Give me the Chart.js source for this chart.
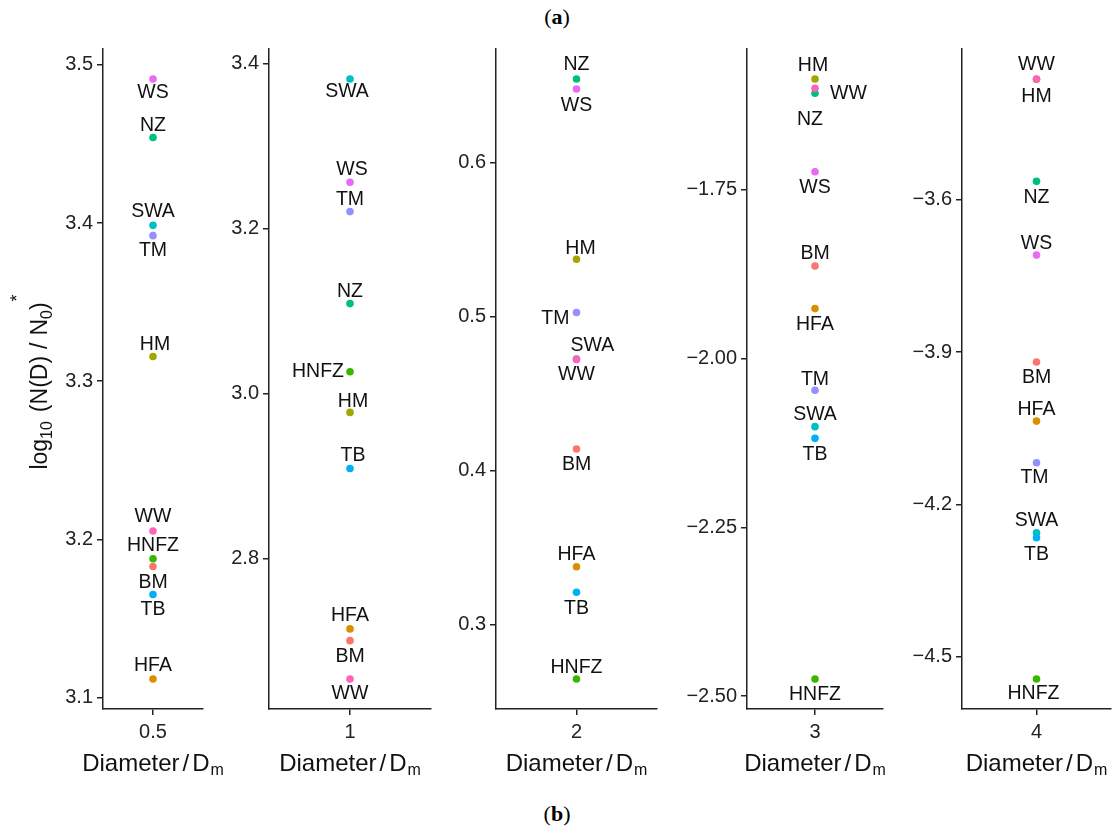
<!DOCTYPE html>
<html>
<head>
<meta charset="utf-8">
<title>log10 N(D)/N0 by diameter</title>
<script src="https://cdn.jsdelivr.net/npm/chart.js@4"></script>
<style>
  body { margin: 0; background: #fff; }
  #wrap { position: relative; width: 1114px; height: 832px; overflow: hidden; }
  #wrap canvas { position: absolute; left: 0; top: 0; }
  .cap { position: absolute; left: 0; width: 1114px; text-align: center;
         font-family: "Liberation Serif", "DejaVu Serif", serif; font-size: 22px;
         line-height: 24px; color: #000; }
</style>
</head>
<body>
<div id="wrap">
  <div class="cap" style="top:5px">(<b>a</b>)</div>
  <div class="cap" style="top:802px">(<b>b</b>)</div>
</div>
<script>
// ---------- Data ----------
const sites = ["BM", "HFA", "HM", "HNFZ", "NZ", "SWA", "TB", "TM", "WS", "WW"];
const siteColors = ["#F8766D", "#D89000", "#A3A500", "#39B600", "#00BF7D",
                    "#00BFC4", "#00B0F6", "#9590FF", "#E76BF3", "#FF62BC"];
const diameters = ["0.5", "1", "2", "3", "4"];

// values in the same order as sites
const valsD05 = [3.1829, 3.1118, 3.3156, 3.1878, 3.4540, 3.3985, 3.1652, 3.3920, 3.4910, 3.2053];
const valsD1  = [2.7004, 2.7146, 2.9770, 3.0262, 3.1088, 3.3810, 2.9090, 3.2203, 3.2559, 2.6539];
const valsD2  = [0.4141, 0.3377, 0.5372, 0.2649, 0.6541, 0.4725, 0.3212, 0.5026, 0.6476, 0.4722];
const valsD3  = [-1.8628, -1.9260, -1.5858, -2.4748, -1.6070, -2.1009, -2.1182, -2.0470, -1.7233, -1.5996];
const valsD4  = [-3.9197, -4.0360, -3.3625, -4.5440, -3.5637, -4.2558, -4.2657, -4.1180, -3.7090, -3.3621];

const ticksD05 = [3.1, 3.2, 3.3, 3.4, 3.5];
const ticksD1  = [2.8, 3.0, 3.2, 3.4];
const ticksD2  = [0.3, 0.4, 0.5, 0.6];
const ticksD3  = [-2.5, -2.25, -2.0, -1.75];
const ticksD4  = [-4.5, -4.2, -3.9, -3.6];
const tickDigits = [1, 1, 1, 2, 1];

const panelValues = [valsD05, valsD1, valsD2, valsD3, valsD4];
const panelTicks = [ticksD05, ticksD1, ticksD2, ticksD3, ticksD4];

// ---------- Layout ----------
const W = 1114, H = 832;
const plotTop = 49, plotBottom = 709;
const axisX  = [103, 269, 496, 747, 962];
const rightX = [203, 431, 657, 883, 1111];
const YW = 60, XH = 40;
const FONT = '"Liberation Sans", Arial, sans-serif';
const INK = "#222";

// label nudges [dx, dy, align] per site, per panel
const labelNudge = [
  [[0,16,"c"],[0,-13,"c"],[2,-12,"c"],[0,-13,"c"],[0,-12,"c"],[0,-14,"c"],[0,15,"c"],[0,15,"c"],[0,14,"c"],[0,-14,"c"]],
  [[0,16,"c"],[0,-13,"c"],[3,-11,"c"],[-6,0,"r"],[0,-12,"c"],[-3,13,"c"],[3,-13,"c"],[0,-12,"c"],[2,-13,"c"],[0,15,"c"]],
  [[0,16,"c"],[0,-12,"c"],[4,-11,"c"],[0,-11,"c"],[0,-14,"c"],[-6,-13,"l"],[0,16,"c"],[-7,6,"r"],[0,17,"c"],[0,15,"c"]],
  [[0,-12,"c"],[0,16,"c"],[-2,-13,"c"],[0,16,"c"],[-5,26,"c"],[0,-12,"c"],[0,16,"c"],[0,-11,"c"],[0,16,"c"],[15,5,"l"]],
  [[0,16,"c"],[0,-11,"c"],[0,17,"c"],[-3,15,"c"],[0,16,"c"],[0,-12,"c"],[0,17,"c"],[-2,15,"c"],[0,-11,"c"],[0,-14,"c"]]
];

// ---------- Plugins ----------
function siteLabels(i) {
  return {
    id: "siteLabels" + i,
    afterDatasetsDraw(chart) {
      const ctx = chart.ctx;
      const pts = chart.getDatasetMeta(0).data;
      ctx.save();
      ctx.font = "19.5px " + FONT;
      ctx.fillStyle = "#111";
      ctx.textBaseline = "middle";
      pts.forEach((p, k) => {
        const [dx, dy, al] = labelNudge[i][k];
        ctx.textAlign = al === "l" ? "left" : al === "r" ? "right" : "center";
        ctx.fillText(sites[k], p.x + dx, p.y + dy);
      });
      ctx.restore();
    }
  };
}

const xTitle = {
  id: "xTitle",
  afterDraw(chart) {
    const ctx = chart.ctx;
    const a = chart.chartArea;
    const cx = (a.left + a.right) / 2;
    const base = 771;
    ctx.save();
    ctx.fillStyle = "#111";
    ctx.textBaseline = "alphabetic";
    ctx.textAlign = "left";
    ctx.font = "24px " + FONT;
    const wDia = ctx.measureText("Diameter").width;
    const wSl = ctx.measureText("/").width;
    const wD = ctx.measureText("D").width;
    ctx.font = "16px " + FONT;
    const wm = ctx.measureText("m").width;
    const gap = 3;
    const total = wDia + gap + wSl + gap + wD + 1 + wm;
    let x = cx - total / 2;
    ctx.font = "24px " + FONT;
    ctx.fillText("Diameter", x, base); x += wDia + gap;
    ctx.fillText("/", x, base); x += wSl + gap;
    ctx.fillText("D", x, base); x += wD + 1;
    ctx.font = "16px " + FONT;
    ctx.fillText("m", x, base + 4);
    ctx.restore();
  }
};

const yTitle = {
  id: "yTitle",
  afterDraw(chart) {
    const ctx = chart.ctx;
    const parts = [
      { t: "log", s: 23, dy: 0 },
      { t: "10", s: 16, dy: 5 },
      { t: "", s: 23, dy: 0, gap: 9 },
      { t: "(N(D)", s: 23, dy: 0 },
      { t: "", s: 23, dy: 0, gap: 7 },
      { t: "/", s: 23, dy: 0 },
      { t: "", s: 23, dy: 0, gap: 7 },
      { t: "N", s: 23, dy: 0 },
      { t: "0", s: 16, dy: 5 },
      { t: ")", s: 23, dy: 0 },
      { t: "", s: 23, dy: 0, gap: 1 },
      { t: "*", s: 18, dy: -24 }
    ];
    ctx.save();
    ctx.translate(47, 382);
    ctx.rotate(-Math.PI / 2);
    ctx.fillStyle = "#111";
    ctx.textBaseline = "alphabetic";
    ctx.textAlign = "left";
    let total = 0;
    parts.forEach(p => {
      ctx.font = p.s + "px " + FONT;
      p.w = p.gap || ctx.measureText(p.t).width;
      total += p.w;
    });
    let x = -total / 2;
    parts.forEach(p => {
      ctx.font = p.s + "px " + FONT;
      if (p.t) ctx.fillText(p.t, x, p.dy);
      x += p.w;
    });
    ctx.restore();
  }
};

// ---------- Panels ----------
const wrap = document.getElementById("wrap");

function makePanel(i) {
  const vals = panelValues[i];
  const lo = Math.min(...vals), hi = Math.max(...vals);
  const pad = (hi - lo) * 0.05;
  const canvas = document.createElement("canvas");
  canvas.width = W;
  canvas.height = H;
  wrap.appendChild(canvas);

  const axisStyle = {
    grid: { display: true, drawOnChartArea: false, drawTicks: true, tickLength: 6, color: INK, lineWidth: 1.5 },
    border: { display: true, color: INK, width: 1.5 }
  };

  const extra = [siteLabels(i), xTitle];
  if (i === 0) extra.push(yTitle);

  new Chart(canvas.getContext("2d"), {
    type: "scatter",
    data: {
      datasets: [{
        data: vals.map(v => ({ x: 0, y: v })),
        backgroundColor: siteColors,
        borderWidth: 0,
        pointRadius: 3.8,
        pointHoverRadius: 3.8
      }]
    },
    options: {
      responsive: false,
      animation: false,
      events: [],
      layout: {
        autoPadding: false,
        padding: { left: axisX[i] - YW, right: W - rightX[i], top: plotTop, bottom: H - plotBottom - XH }
      },
      plugins: { legend: { display: false }, tooltip: { enabled: false } },
      scales: {
        x: {
          type: "linear", min: -1, max: 1,
          ...axisStyle,
          afterBuildTicks: s => { s.ticks = [{ value: 0 }]; },
          afterFit: s => { s.height = XH; },
          ticks: { callback: () => diameters[i], color: INK, padding: 5, font: { family: FONT, size: 20 } }
        },
        y: {
          type: "linear", min: lo - pad, max: hi + pad,
          ...axisStyle,
          afterBuildTicks: s => { s.ticks = panelTicks[i].map(v => ({ value: v })); },
          afterFit: s => { s.width = YW; },
          ticks: {
            callback: v => Number(v).toFixed(tickDigits[i]).replace("-", "\u2212"),
            color: INK, padding: 4, font: { family: FONT, size: 20 }
          }
        }
      }
    },
    plugins: extra
  });
}

diameters.forEach((d, i) => makePanel(i));
</script>
</body>
</html>
